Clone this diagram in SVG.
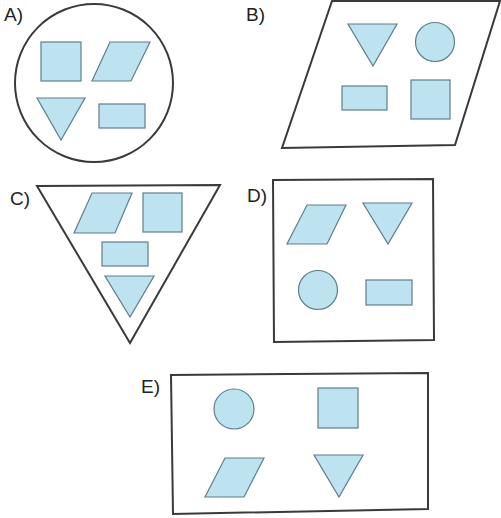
<svg xmlns="http://www.w3.org/2000/svg" width="501" height="518" viewBox="0 0 501 518">
<style>
.frame{fill:none;stroke:#3a3a3a;stroke-width:2}
.s{fill:#bce3ef;stroke:#5f7f8a;stroke-width:1.2}
.lbl{font-family:"Liberation Sans",Arial,sans-serif;font-size:19px;fill:#222}
</style>
<rect width="501" height="518" fill="#fff"/>
<g id="A">
<text class="lbl" x="4" y="21">A)</text>
<circle class="frame" cx="94" cy="83" r="79"/>
<rect class="s" x="41" y="42" width="40" height="39"/>
<polygon class="s" points="110,42 150,42 131,81 92,81"/>
<polygon class="s" points="37,98 85,98 61,140"/>
<rect class="s" x="99" y="104" width="46" height="24"/>
</g>
<g id="B">
<text class="lbl" x="246" y="21">B)</text>
<polygon class="frame" points="332,1 500,1 455,145 282,148"/>
<polygon class="s" points="348,24 397,24 373,66"/>
<circle class="s" cx="435" cy="42" r="19.5"/>
<rect class="s" x="342" y="86" width="45" height="24"/>
<rect class="s" x="411" y="80" width="39" height="39"/>
</g>
<g id="C">
<text class="lbl" x="10" y="205">C)</text>
<polygon class="frame" points="37,186 220,185 130,343"/>
<polygon class="s" points="92,193 132,193 115,233 74,233"/>
<rect class="s" x="143" y="193" width="39" height="39"/>
<rect class="s" x="102" y="242" width="46" height="24"/>
<polygon class="s" points="105,276 154,276 130,317"/>
</g>
<g id="D">
<text class="lbl" x="247" y="202">D)</text>
<polygon class="frame" points="273,180 433,179 434,340 274,342"/>
<polygon class="s" points="307,205 346,205 327,244 287,244"/>
<polygon class="s" points="363,203 412,203 388,244"/>
<circle class="s" cx="318" cy="290" r="19.5"/>
<rect class="s" x="366" y="280" width="46" height="25"/>
</g>
<g id="E">
<text class="lbl" x="141" y="393">E)</text>
<polygon class="frame" points="171,375 428,373 428,509 173,514"/>
<circle class="s" cx="234" cy="409" r="20"/>
<rect class="s" x="318" y="388" width="40" height="40"/>
<polygon class="s" points="225,458 264,458 244,497 205,497"/>
<polygon class="s" points="314,455 363,455 339,497"/>
</g>
</svg>
